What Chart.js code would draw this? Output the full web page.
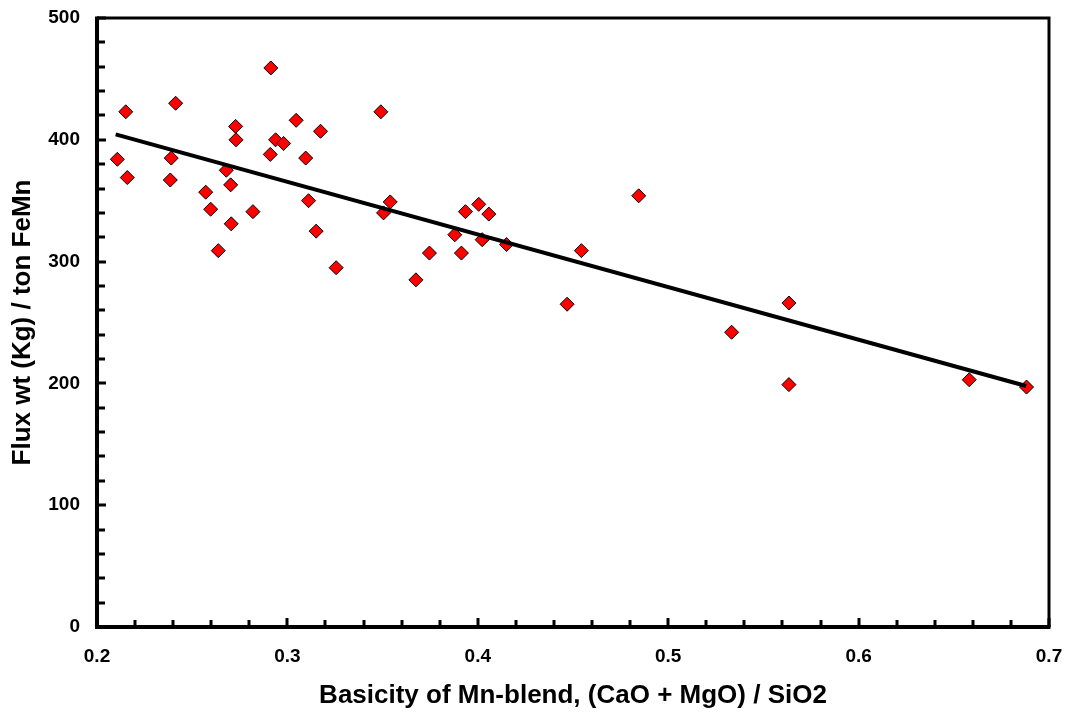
<!DOCTYPE html>
<html>
<head>
<meta charset="utf-8">
<script src="https://cdn.jsdelivr.net/npm/chart.js@4/dist/chart.umd.min.js"></script>
<style>
body { margin: 0; background: #fff; }
</style>
</head>
<body>
<canvas id="chart" width="1066" height="713"></canvas>
<script>
// basicity (CaO + MgO) / SiO2 of each blend
var basicity = [
    0.2107, 0.2151, 0.2159, 0.2390, 0.2385, 0.2413, 0.2571, 0.2597, 0.2637, 0.2679,
    0.2702, 0.2705, 0.2728, 0.2730, 0.2819, 0.2913, 0.2910, 0.2938, 0.2980, 0.3046,
    0.3096, 0.3111, 0.3151, 0.3174, 0.3256, 0.3491, 0.3505, 0.3540, 0.3675, 0.3746,
    0.3879, 0.3914, 0.3935, 0.4005, 0.4023, 0.4058, 0.4151, 0.4469, 0.4544, 0.4845,
    0.5333, 0.5634, 0.5634, 0.6581, 0.6882
];
// flux weight, kg per ton FeMn
var fluxWeight = [
    384, 423, 369, 385, 367, 430, 357, 343, 309, 375,
    363, 331, 411, 400, 341, 459, 388, 400, 397, 416,
    385, 350, 325, 407, 295, 423, 340, 349, 285, 307,
    322, 307, 341, 347, 318, 339, 314, 265, 309, 354,
    242, 266, 199, 203, 197
];
// end points of the linear trend line
var trendBasicity = [0.2098, 0.688];
var trendWeight = [404.4, 197.9];

var xTitle = 'Basicity of Mn-blend, (CaO + MgO) / SiO2';
var yTitle = 'Flux wt (Kg) / ton FeMn';

var fontFamily = '"Liberation Sans", Arial, sans-serif';

function toPoints(xs, ys) {
    return xs.map(function(x, i) {
        return {x: x, y: ys[i]};
    });
}

// fixed axis box sizes, and no extra room for overflowing tick labels
function fixBox(size) {
    return function(scale) {
        if (scale.isHorizontal()) {
            scale.height = size;
        } else {
            scale.width = size;
        }
        scale.paddingLeft = 0;
        scale.paddingRight = 0;
        scale.paddingTop = 0;
        scale.paddingBottom = 0;
    };
}

// frame plus inward pointing major / minor ticks, like the excel chart
var frameTicks = {
    id: 'frameTicks',
    afterDraw: function(chart) {
        var ctx = chart.ctx;
        var area = chart.chartArea;
        var xs = chart.scales.x;
        var ys = chart.scales.y;
        var i, p, len;

        ctx.save();
        ctx.strokeStyle = '#000';
        ctx.lineCap = 'butt';

        ctx.lineWidth = 3;
        ctx.beginPath();
        ctx.moveTo(area.left, area.top);
        ctx.lineTo(area.right, area.top);
        ctx.lineTo(area.right, area.bottom);
        ctx.stroke();

        ctx.lineWidth = 4;
        ctx.beginPath();
        ctx.moveTo(area.left, area.top - 1.5);
        ctx.lineTo(area.left, area.bottom);
        ctx.lineTo(area.right + 1.5, area.bottom);
        ctx.stroke();

        ctx.lineWidth = 3;
        ctx.beginPath();
        for (i = 0; i <= 25; i++) {
            p = Math.round(xs.getPixelForValue(0.2 + i * 0.02));
            len = i % 5 === 0 ? 9 : 7;
            ctx.moveTo(p, area.bottom);
            ctx.lineTo(p, area.bottom - len);
        }
        for (i = 0; i <= 25; i++) {
            p = Math.round(ys.getPixelForValue(i * 20));
            len = i % 5 === 0 ? 9 : 8;
            ctx.moveTo(area.left, p);
            ctx.lineTo(area.left + len, p);
        }
        ctx.stroke();
        ctx.restore();
    }
};

var ctx = document.getElementById('chart').getContext('2d');
var chart = new Chart(ctx, {
    type: 'scatter',
    data: {
        datasets: [{
            type: 'line',
            data: toPoints(trendBasicity, trendWeight),
            borderColor: '#000',
            borderWidth: 4,
            pointRadius: 0,
            fill: false,
            order: 0
        }, {
            data: toPoints(basicity, fluxWeight),
            pointStyle: 'rectRot',
            pointRadius: 7,
            backgroundColor: '#ff0000',
            borderColor: '#000',
            borderWidth: 1,
            order: 1
        }]
    },
    options: {
        responsive: false,
        animation: false,
        layout: {
            padding: {left: 0, top: 18, right: 17, bottom: 0}
        },
        plugins: {
            legend: {display: false},
            tooltip: {enabled: false}
        },
        scales: {
            x: {
                type: 'linear',
                min: 0.2,
                max: 0.7,
                afterFit: fixBox(86),
                grid: {display: false, drawTicks: false},
                border: {display: false},
                ticks: {
                    stepSize: 0.1,
                    padding: 18,
                    color: '#000',
                    font: {family: fontFamily, size: 19, weight: 'bold'},
                    callback: function(v) { return v.toFixed(1); }
                },
                title: {
                    display: true,
                    text: xTitle,
                    color: '#000',
                    padding: {top: 0, bottom: 2},
                    font: {family: fontFamily, size: 26, weight: 'bold'}
                }
            },
            y: {
                min: 0,
                max: 500,
                afterFit: fixBox(97),
                grid: {display: false, drawTicks: false},
                border: {display: false},
                ticks: {
                    stepSize: 100,
                    padding: 17,
                    color: '#000',
                    font: {family: fontFamily, size: 19, weight: 'bold'}
                },
                title: {
                    display: true,
                    text: yTitle,
                    color: '#000',
                    padding: {top: 7, bottom: 0},
                    font: {family: fontFamily, size: 26, weight: 'bold'}
                }
            }
        }
    },
    plugins: [frameTicks]
});
</script>
</body>
</html>
